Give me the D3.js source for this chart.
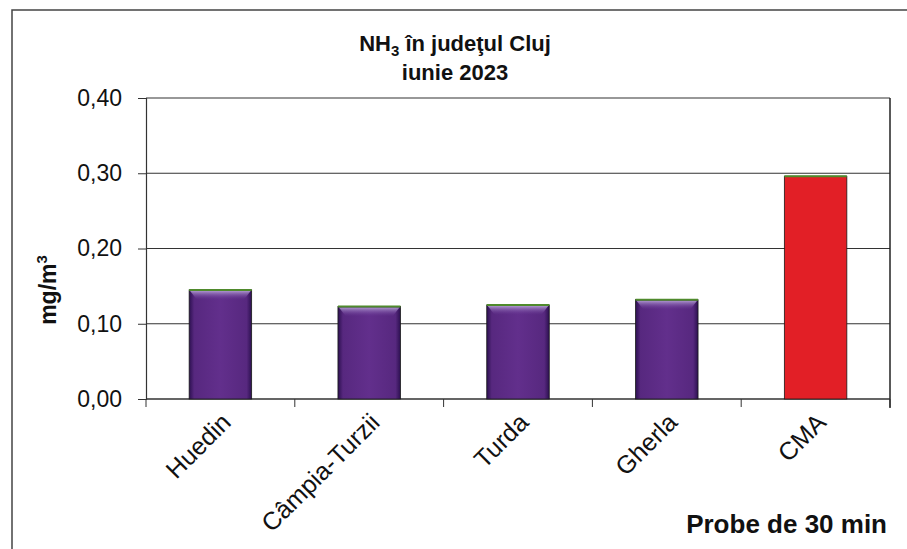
<!DOCTYPE html>
<html>
<head>
<meta charset="utf-8">
<script src="https://cdn.jsdelivr.net/npm/d3@7"></script>
<style>
  body { margin: 0; background: #fff; }
  svg { display: block; font-family: "Liberation Sans", Arial, sans-serif; }
</style>
</head>
<body>
<svg width="907" height="549"></svg>
<script>
// date
var categories = ["Huedin", "Câmpia-Turzii", "Turda", "Gherla", "CMA"];
var values = [0.145, 0.123, 0.125, 0.132, 0.296];
var barKinds = ["proba", "proba", "proba", "proba", "cma"];
var yTicks = [0, 0.1, 0.2, 0.3, 0.4];

var svg = d3.select("svg");

// chenarul paginii
svg.append("path")
    .attr("d", "M12,549 L12,10 L907,10")
    .attr("fill", "none")
    .attr("stroke", "#444")
    .attr("stroke-width", 1.5);

var pLeft = 146, pRight = 890, pTop = 98, pBottom = 399;

var x = d3.scaleBand().domain(categories).range([pLeft, pRight]).paddingInner(0.58).paddingOuter(0.29);
var xTicks = d3.scaleBand().domain(categories).range([pLeft, pRight]);
var y = d3.scaleLinear().domain([0, 0.4]).range([pBottom, pTop]);

var defs = svg.append("defs");
var g1 = defs.append("linearGradient").attr("id", "purple").attr("x1", 0).attr("x2", 1).attr("y1", 0).attr("y2", 0);
g1.append("stop").attr("offset", "0").attr("stop-color", "#2c1050");
g1.append("stop").attr("offset", "0.08").attr("stop-color", "#57287f");
g1.append("stop").attr("offset", "0.5").attr("stop-color", "#622f8c");
g1.append("stop").attr("offset", "0.92").attr("stop-color", "#57287f");
g1.append("stop").attr("offset", "1").attr("stop-color", "#2c1050");
var g2 = defs.append("linearGradient").attr("id", "bevel").attr("x1", 0).attr("x2", 0).attr("y1", 0).attr("y2", 1);
g2.append("stop").attr("offset", "0").attr("stop-color", "#b7a3d6").attr("stop-opacity", 0.9);
g2.append("stop").attr("offset", "1").attr("stop-color", "#6a3a98").attr("stop-opacity", 0);

// grila
svg.append("g")
    .selectAll("line")
    .data(yTicks)
    .enter()
    .append("line")
    .attr("x1", pLeft)
    .attr("x2", pRight)
    .attr("y1", function(d) { return y(d); })
    .attr("y2", function(d) { return y(d); })
    .attr("stroke", "#333")
    .attr("stroke-width", 1.2);

svg.append("line")
    .attr("x1", pRight).attr("x2", pRight)
    .attr("y1", pTop).attr("y2", pBottom + 9)
    .attr("stroke", "#222").attr("stroke-width", 1.5);

// axa Y
var yAxis = svg.append("g")
    .attr("transform", "translate(" + pLeft + ",0)")
    .call(d3.axisLeft(y).tickValues(yTicks).tickSize(8).tickPadding(16)
        .tickFormat(function(d) { return d3.format(".2f")(d).replace(".", ","); }));
yAxis.select(".domain").attr("stroke", "#333").attr("stroke-width", 1.2);
yAxis.selectAll(".tick line").attr("stroke", "#333");
yAxis.selectAll("text").attr("font-size", 23).attr("fill", "#111")
    .attr("font-family", "'Liberation Sans', Arial, sans-serif");

// axa X
var xAxis = svg.append("g")
    .attr("transform", "translate(0," + pBottom + ")");
xAxis.append("line").attr("x1", pLeft).attr("x2", pRight).attr("y1", 0).attr("y2", 0)
    .attr("stroke", "#333").attr("stroke-width", 1.2);
var tickPos = categories.map(function(c) { return xTicks(c); }).concat([pRight]);
xAxis.selectAll(".xt")
    .data(tickPos)
    .enter()
    .append("line")
    .attr("x1", function(d) { return d; })
    .attr("x2", function(d) { return d; })
    .attr("y1", 0).attr("y2", 8)
    .attr("stroke", "#333");

// bare
var bars = svg.append("g")
    .selectAll("g")
    .data(categories)
    .enter()
    .append("g");

bars.append("rect")
    .attr("x", function(d) { return x(d); })
    .attr("y", function(d, i) { return y(values[i]); })
    .attr("width", x.bandwidth())
    .attr("height", function(d, i) { return pBottom - y(values[i]); })
    .attr("fill", function(d, i) { return barKinds[i] == "cma" ? "#e21f26" : "url(#purple)"; })
    .attr("stroke", "#1a1a1a")
    .attr("stroke-width", 0.8);

bars.filter(function(d, i) { return barKinds[i] != "cma"; })
    .append("polygon")
    .attr("points", function(d, i) {
        var x0 = x(d), x1 = x(d) + x.bandwidth(), t = y(values[i]);
        return [[x0 + 1, t + 1], [x1 - 1, t + 1], [x1 - 8, t + 10], [x0 + 8, t + 10]].join(" ");
    })
    .attr("fill", "url(#bevel)");

bars.append("line")
    .attr("x1", function(d) { return x(d); })
    .attr("x2", function(d) { return x(d) + x.bandwidth(); })
    .attr("y1", function(d, i) { return y(values[i]); })
    .attr("y2", function(d, i) { return y(values[i]); })
    .attr("stroke", "#4f8a2c")
    .attr("stroke-width", 2);

// etichete categorii
svg.append("g")
    .selectAll("text")
    .data(categories)
    .enter()
    .append("text")
    .attr("transform", function(d) {
        return "translate(" + (x(d) + x.bandwidth() / 2 + 12) + "," + (pBottom + 25) + ") rotate(-45)";
    })
    .attr("text-anchor", "end")
    .attr("font-size", 25)
    .attr("fill", "#111")
    .text(function(d) { return d; });

// titlu
var title = svg.append("text")
    .attr("x", 455).attr("y", 51)
    .attr("text-anchor", "middle")
    .attr("font-size", 22).attr("font-weight", "bold").attr("fill", "#111");
title.append("tspan").text("NH");
title.append("tspan").attr("font-size", 15).attr("dy", 5).text("3");
title.append("tspan").attr("dy", -5).text(" în judeţul Cluj");
svg.append("text")
    .attr("x", 455).attr("y", 80)
    .attr("text-anchor", "middle")
    .attr("font-size", 22).attr("font-weight", "bold").attr("fill", "#111")
    .text("iunie 2023");

// titlu axa Y
var yl = svg.append("text")
    .attr("transform", "translate(56,290) rotate(-90)")
    .attr("text-anchor", "middle")
    .attr("font-size", 23).attr("font-weight", "bold").attr("fill", "#111");
yl.append("tspan").text("mg/m");
yl.append("tspan").attr("font-size", 15).attr("dy", -9).text("3");

// titlu axa X
svg.append("text")
    .attr("x", 887).attr("y", 533)
    .attr("text-anchor", "end")
    .attr("font-size", 26).attr("font-weight", "bold").attr("fill", "#111")
    .text("Probe de 30 min");
</script>
</body>
</html>
